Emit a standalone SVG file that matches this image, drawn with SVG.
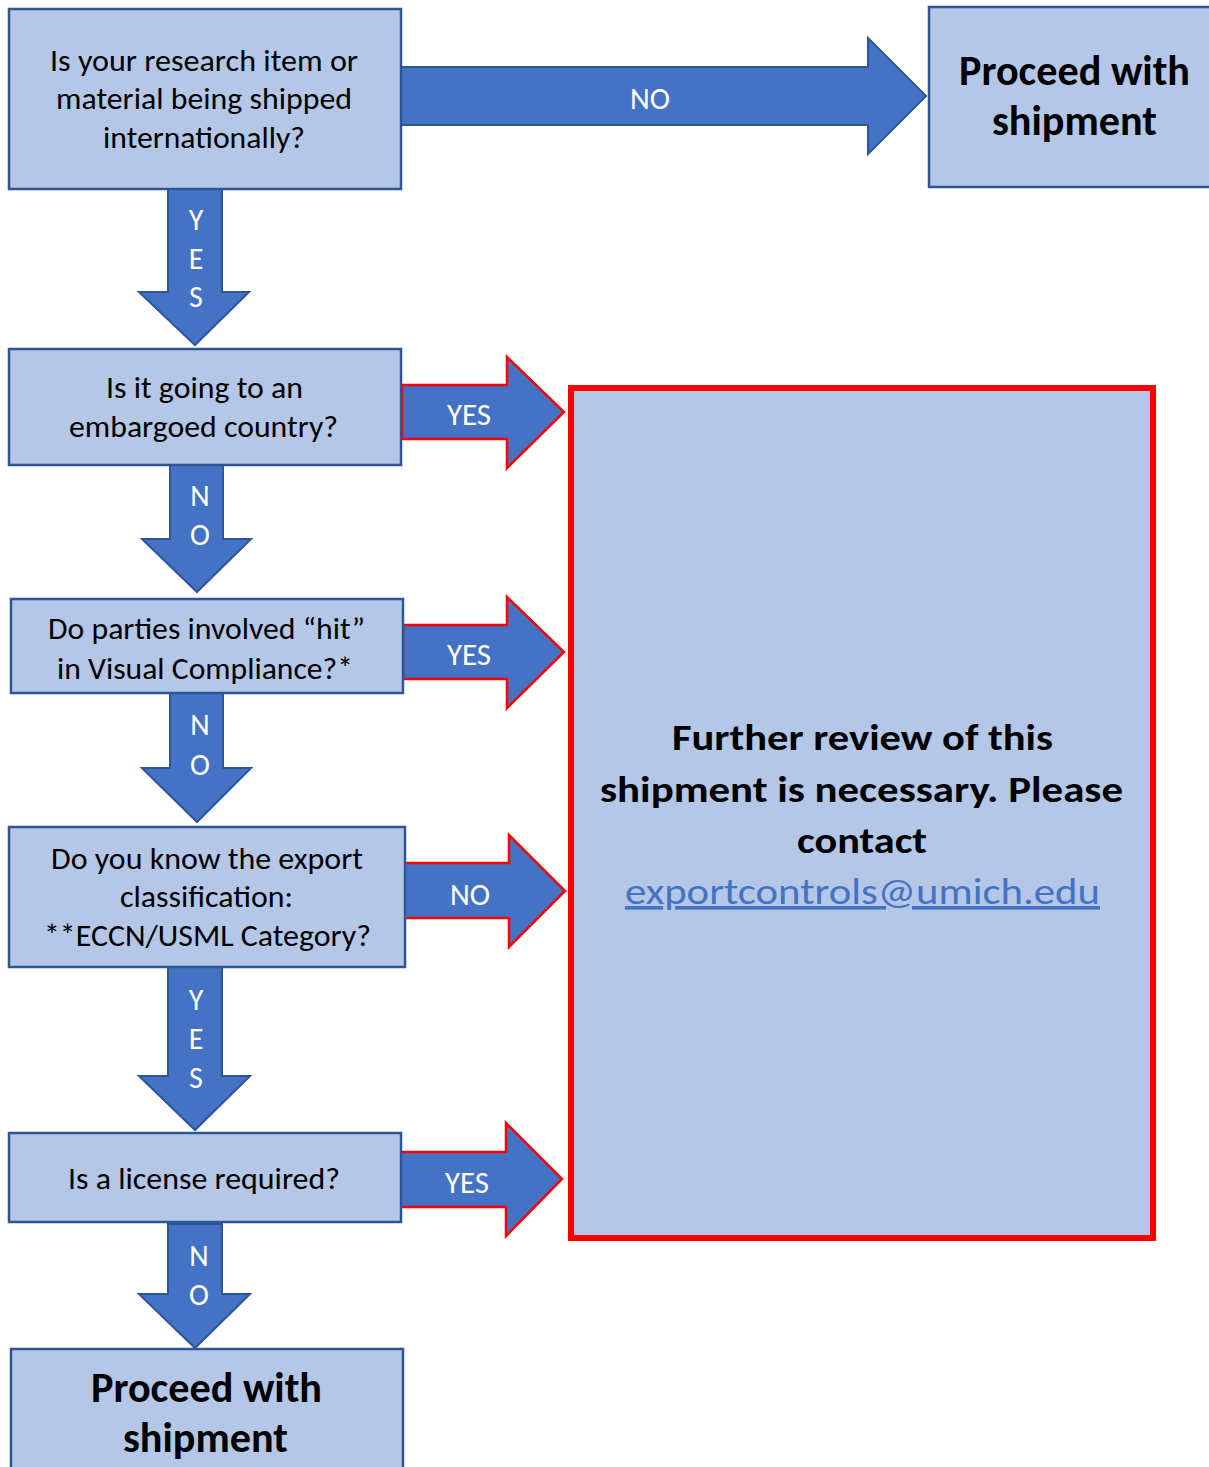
<svg xmlns="http://www.w3.org/2000/svg" width="1209" height="1467" viewBox="0 0 1209 1467">
<defs>
<style>
.box{fill:#b4c7e7;stroke:#2f5597;stroke-width:2.5}
.red{fill:#b4c7e7;stroke:#ff0000;stroke-width:6}
.arr{fill:#4472c4;stroke:#2f5597;stroke-width:2}
.arr-r{fill:#4472c4;stroke:#ff0000;stroke-width:2.5}
.t{font-family:Carlito,Calibri,"Liberation Sans",Arial,sans-serif;font-size:31px;fill:#000}
.b{font-family:Carlito,Calibri,"Liberation Sans",Arial,sans-serif;font-size:42px;font-weight:bold;fill:#000}
.rb{font-family:Carlito,Calibri,"Liberation Sans",Arial,sans-serif;font-size:36px;font-weight:bold;fill:#000}
.link{font-family:Carlito,Calibri,"Liberation Sans",Arial,sans-serif;font-size:36px;fill:#4472c4;text-decoration:underline}
.lbl{font-family:Carlito,Calibri,"Liberation Sans",Arial,sans-serif;font-size:30px;fill:#fff}
.v{font-family:Carlito,Calibri,"Liberation Sans",Arial,sans-serif;font-size:30px;fill:#fff;text-anchor:middle}
</style>
</defs>
<rect width="1209" height="1467" fill="#fff"/>
<g id="connectors">
  <g id="c-q1-no">
    <path class="arr" d="M401,67 H868 V38 L926,96 L868,154 V125 H401 Z"/>
    <text class="lbl" x="630" y="109" textLength="40" lengthAdjust="spacingAndGlyphs">NO</text>
  </g>
  <g id="c-q1-yes">
    <path class="arr" d="M168,189 H222 V292 H249 L195,345 L139,292 H168 Z"/>
    <text class="v" x="196" y="230">Y</text>
    <text class="v" x="196" y="269">E</text>
    <text class="v" x="196" y="307">S</text>
  </g>
  <g id="c-q2-yes">
    <path class="arr-r" d="M402,385 H507 V357 L564,412 L507,468 V439 H402 Z"/>
    <text class="lbl" x="447" y="425" textLength="44" lengthAdjust="spacingAndGlyphs">YES</text>
  </g>
  <g id="c-q2-no">
    <path class="arr" d="M170,465 H223 V539 H251 L197,592 L142,539 H170 Z"/>
    <text class="v" x="200" y="506">N</text>
    <text class="v" x="200" y="545">O</text>
  </g>
  <g id="c-q3-yes">
    <path class="arr-r" d="M403,625 H507 V597 L564,652 L507,708 V679 H403 Z"/>
    <text class="lbl" x="447" y="665" textLength="44" lengthAdjust="spacingAndGlyphs">YES</text>
  </g>
  <g id="c-q3-no">
    <path class="arr" d="M170,693 H223 V768 H251 L197,822 L142,768 H170 Z"/>
    <text class="v" x="200" y="735">N</text>
    <text class="v" x="200" y="775">O</text>
  </g>
  <g id="c-q4-no">
    <path class="arr-r" d="M404,863 H509 V835 L565,891 L509,947 V918 H404 Z"/>
    <text class="lbl" x="450" y="905" textLength="40" lengthAdjust="spacingAndGlyphs">NO</text>
  </g>
  <g id="c-q4-yes">
    <path class="arr" d="M168,967 H222 V1076 H250 L195,1130 L139,1076 H168 Z"/>
    <text class="v" x="196" y="1010">Y</text>
    <text class="v" x="196" y="1049">E</text>
    <text class="v" x="196" y="1088">S</text>
  </g>
  <g id="c-q5-yes">
    <path class="arr-r" d="M400,1152 H506 V1123 L562,1179 L506,1236 V1207 H400 Z"/>
    <text class="lbl" x="445" y="1193" textLength="44" lengthAdjust="spacingAndGlyphs">YES</text>
  </g>
  <g id="c-q5-no">
    <path class="arr" d="M168,1224 H222 V1294 H250 L195,1348 L139,1294 H168 Z"/>
    <text class="v" x="199" y="1266">N</text>
    <text class="v" x="199" y="1305">O</text>
  </g>
</g>
<g id="q1">
  <rect class="box" x="9" y="9" width="392" height="180"/>
  <text class="t" x="50" y="71" textLength="308" lengthAdjust="spacingAndGlyphs">Is your research item or</text>
  <text class="t" x="56" y="109" textLength="296" lengthAdjust="spacingAndGlyphs">material being shipped</text>
  <text class="t" x="103" y="148" textLength="202" lengthAdjust="spacingAndGlyphs">internationally?</text>
</g>
<g id="proceed-top">
  <rect class="box" x="929" y="7" width="300" height="180"/>
  <text class="b" x="959" y="85" textLength="231" lengthAdjust="spacingAndGlyphs">Proceed with</text>
  <text class="b" x="992" y="135" textLength="165" lengthAdjust="spacingAndGlyphs">shipment</text>
</g>
<g id="q2">
  <rect class="box" x="9" y="349" width="392" height="116"/>
  <text class="t" x="106" y="398" textLength="197" lengthAdjust="spacingAndGlyphs">Is it going to an</text>
  <text class="t" x="69" y="437" textLength="269" lengthAdjust="spacingAndGlyphs">embargoed country?</text>
</g>
<g id="q3">
  <rect class="box" x="11" y="599" width="392" height="94"/>
  <text class="t" x="48" y="639" textLength="317" lengthAdjust="spacingAndGlyphs">Do parties involved “hit”</text>
  <text class="t" x="57" y="679" textLength="296" lengthAdjust="spacingAndGlyphs">in Visual Compliance?*</text>
</g>
<g id="q4">
  <rect class="box" x="9" y="827" width="396" height="140"/>
  <text class="t" x="51" y="869" textLength="312" lengthAdjust="spacingAndGlyphs">Do you know the export</text>
  <text class="t" x="120" y="907" textLength="173" lengthAdjust="spacingAndGlyphs">classification:</text>
  <text class="t" x="44" y="946" textLength="327" lengthAdjust="spacingAndGlyphs">**ECCN/USML Category?</text>
</g>
<g id="q5">
  <rect class="box" x="9" y="1133" width="392" height="89"/>
  <text class="t" x="68" y="1189" textLength="272" lengthAdjust="spacingAndGlyphs">Is a license required?</text>
</g>
<g id="proceed-bottom">
  <rect class="box" x="11" y="1349" width="392" height="130"/>
  <text class="b" x="91" y="1402" textLength="231" lengthAdjust="spacingAndGlyphs">Proceed with</text>
  <text class="b" x="123" y="1452" textLength="165" lengthAdjust="spacingAndGlyphs">shipment</text>
</g>
<g id="further-review">
  <rect class="red" x="571" y="388" width="582" height="850"/>
  <text class="rb" x="672" y="750" textLength="381" lengthAdjust="spacingAndGlyphs">Further review of this</text>
  <text class="rb" x="600" y="802" textLength="523" lengthAdjust="spacingAndGlyphs">shipment is necessary. Please</text>
  <text class="rb" x="797" y="853" textLength="130" lengthAdjust="spacingAndGlyphs">contact</text>
  <text class="link" x="625" y="904" textLength="475" lengthAdjust="spacingAndGlyphs">exportcontrols@umich.edu</text>
</g>
</svg>
